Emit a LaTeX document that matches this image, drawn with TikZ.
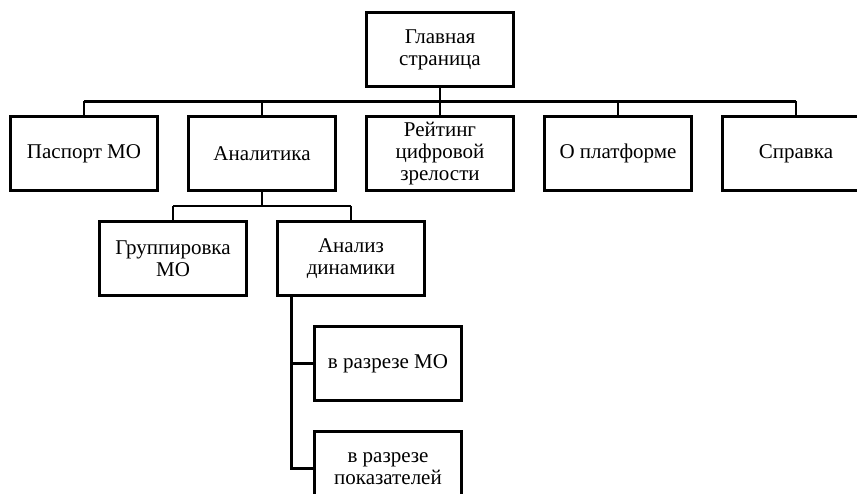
\documentclass[tikz,border=0pt]{standalone}
\usepackage{fontspec}
\setmainfont{Liberation Serif}
\usetikzlibrary{positioning}

\begin{document}
\begin{tikzpicture}[
        page/.style={draw, line width=2.2pt, outer sep=0pt, minimum width=147pt, minimum height=74pt, inner sep=2pt, align=center, font=\fontsize{21}{22}\selectfont},
        link/.style={line width=2.2pt},
        node distance=31pt
    ]
    \useasboundingbox (0,0) rectangle (857pt,-494pt);
    \clip (0,0) rectangle (857pt,-494pt);

    % Top level
    \node[page] (main) at (440pt,-49.5pt) {Главная\\страница};

    % Sections
    \node[page, below=30pt of main] (rating) {Рейтинг\\цифровой\\зрелости};
    \node[page, left=of rating] (analytics) {Аналитика};
    \node[page, left=of analytics] (passport) {Паспорт МО};
    \node[page, right=of rating] (about) {О платформе};
    \node[page, right=of about] (help) {Справка};

    % Analytics subsections
    \node[page, below=of analytics, xshift=-89pt] (grouping) {Группировка\\МО};
    \node[page, below=of analytics, xshift=89pt] (dynamics) {Анализ\\динамики};
    \node[page, below=of dynamics, xshift=37pt] (bymo) {в разрезе МО};
    \node[page, below=of bymo] (byindex) {в разрезе\\показателей};

    % Top bus
    \draw[link] (main.south) -- ++(0,-15pt) coordinate (bus);
    \draw[link] (bus -| passport.north) -- (bus -| help.north);
    \foreach \n in {passport, analytics, rating, about, help}
        \draw[link] (bus -| \n.north) -- (\n.north);

    % Analytics bus
    \draw[link] (analytics.south) -- ++(0,-15.5pt) coordinate (subbus);
    \draw[link] (subbus -| grouping.north) -- (subbus -| dynamics.north);
    \foreach \n in {grouping, dynamics}
        \draw[link] (subbus -| \n.north) -- (\n.north);

    % Dynamics branch
    \coordinate (trunk) at ([xshift=14pt]dynamics.south west);
    \draw[link] (trunk) |- (byindex.west);
    \draw[link] (trunk |- bymo.west) -- (bymo.west);
\end{tikzpicture}
\end{document}
